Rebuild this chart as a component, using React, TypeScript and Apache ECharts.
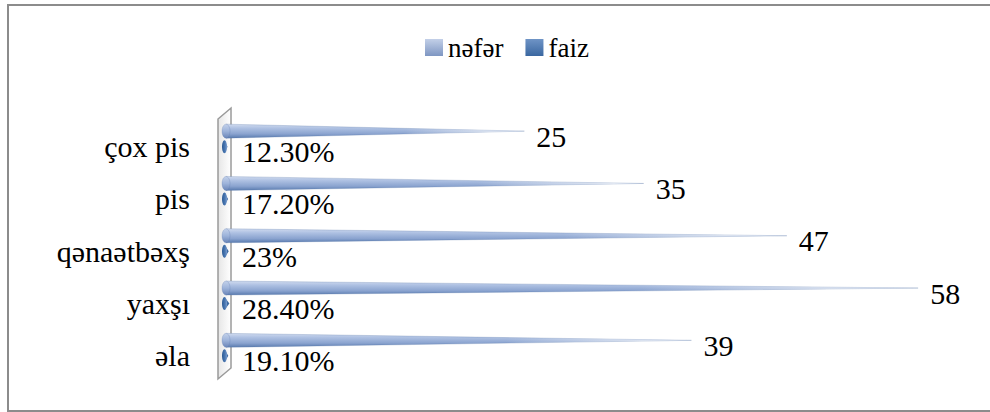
import React, { useEffect, useRef } from "react";
import * as echarts from "echarts";

const categories = ["əla", "yaxşı", "qənaətbəxş", "pis", "çox pis"];
const neferValues = [39, 58, 47, 35, 25];
const faizValues = [0.191, 0.284, 0.23, 0.172, 0.123];
const faizLabels = ["19.10%", "28.40%", "23%", "17.20%", "12.30%"];
const seriesNames = ["nəfər", "faiz"];

const FONT = "Times New Roman, Liberation Serif, serif";

export default function App() {
  const ref = useRef<HTMLDivElement>(null);
  useEffect(() => {
    const chart = echarts.init(ref.current!, null, { renderer: "svg" });

    const coneFill = {
      type: "linear", x: 0, y: 0, x2: 0, y2: 1,
      colorStops: [
        { offset: 0, color: "#d0dbef" },
        { offset: 0.3, color: "#adc0e2" },
        { offset: 0.7, color: "#8aa3cf" },
        { offset: 1, color: "#587aae" },
      ],
    };
    const fadeFill = {
      type: "linear", x: 0, y: 0, x2: 1, y2: 0,
      colorStops: [
        { offset: 0, color: "rgba(255,255,255,0)" },
        { offset: 0.6, color: "rgba(255,255,255,0)" },
        { offset: 1, color: "rgba(255,255,255,0.9)" },
      ],
    };
    const baseFill = {
      type: "linear", x: 0, y: 0, x2: 0, y2: 1,
      colorStops: [
        { offset: 0, color: "#c3d1ea" },
        { offset: 0.5, color: "#9db3da" },
        { offset: 1, color: "#6985b8" },
      ],
    };
    const faizFill = {
      type: "linear", x: 0, y: 0, x2: 1, y2: 0,
      colorStops: [
        { offset: 0, color: "#2d5b95" },
        { offset: 0.6, color: "#4a78b3" },
        { offset: 1, color: "#7fa0cf" },
      ],
    };

    const option: any = {
      animation: false,
      backgroundColor: "#ffffff",
      textStyle: { fontFamily: FONT },
      legend: {
        data: seriesNames,
        left: 420,
        top: 29,
        icon: "rect",
        itemWidth: 18,
        itemHeight: 17,
        itemGap: 22,
        textStyle: { fontFamily: FONT, fontSize: 27, color: "#000" },
      },
      grid: { left: 226, right: 48, top: 113, height: 261.5, containLabel: false },
      xAxis: {
        type: "value",
        min: 0,
        max: 60,
        show: false,
      },
      yAxis: {
        type: "category",
        data: categories,
        axisLine: { show: false },
        axisTick: { show: false },
        splitLine: { show: false },
        axisLabel: {
          fontFamily: FONT,
          fontSize: 30,
          color: "#000",
          margin: 36,
          verticalAlign: "top",
          lineHeight: 15,
        },
      },
      graphic: [
        {
          type: "rect",
          z: 0,
          shape: { x: 8, y: 5, width: 990, height: 406 },
          style: { fill: "none", stroke: "#8c8c8c", lineWidth: 2 },
        },
        {
          type: "polygon",
          z: 0,
          shape: { points: [[218, 119], [231, 108], [231, 368], [218, 379]] },
          style: {
            fill: {
              type: "linear", x: 0, y: 0, x2: 1, y2: 0,
              colorStops: [
                { offset: 0, color: "#e6e6e6" },
                { offset: 1, color: "#ffffff" },
              ],
            },
            stroke: "#9a9a9a",
            lineWidth: 1.5,
          },
        },
      ],
      series: [
        {
          name: seriesNames[0],
          type: "custom",
          z: 3,
          itemStyle: {
            color: {
              type: "linear", x: 0, y: 0, x2: 0, y2: 1,
              colorStops: [
                { offset: 0, color: "#c3d0e8" },
                { offset: 1, color: "#7e96c2" },
              ],
            },
          },
          encode: { x: 0, y: 1 },
          data: neferValues.map((v, i) => [v, i]),
          renderItem: (params: any, api: any) => {
            const i = api.value(1);
            const v = api.value(0);
            const p0 = api.coord([0, i]);
            const p1 = api.coord([v, i]);
            const x0 = p0[0];
            const x1 = p1[0];
            const yc = p0[1] - 8;
            const h = 7;
            const pts = [[x0, yc - h], [x1, yc], [x0, yc + h]];
            return {
              type: "group",
              children: [
                {
                  type: "polygon",
                  shape: { points: pts },
                  style: { fill: coneFill, stroke: "rgba(90,120,170,0.45)", lineWidth: 0.6 },
                },
                {
                  type: "polygon",
                  shape: { points: pts },
                  style: { fill: fadeFill },
                },
                {
                  type: "ellipse",
                  shape: { cx: x0, cy: yc, rx: 4, ry: h },
                  style: { fill: baseFill, stroke: "rgba(90,120,170,0.5)", lineWidth: 0.5 },
                },
                {
                  type: "text",
                  style: {
                    text: String(v),
                    x: x1 + 12,
                    y: yc + 5,
                    fill: "#000",
                    fontFamily: FONT,
                    fontSize: 30,
                    align: "left",
                    verticalAlign: "middle",
                  },
                },
              ],
            };
          },
        },
        {
          name: seriesNames[1],
          type: "custom",
          z: 3,
          itemStyle: {
            color: {
              type: "linear", x: 0, y: 0, x2: 0, y2: 1,
              colorStops: [
                { offset: 0, color: "#6f94c6" },
                { offset: 1, color: "#3a67a0" },
              ],
            },
          },
          encode: { x: 0, y: 1 },
          data: faizValues.map((v, i) => [v, i]),
          renderItem: (params: any, api: any) => {
            const i = api.value(1);
            const v = api.value(0);
            const p0 = api.coord([0, i]);
            const p1 = api.coord([v, i]);
            const x0 = p0[0];
            const x1 = p1[0];
            const yc = p0[1] + 7.5;
            const h = 6.5;
            return {
              type: "group",
              children: [
                {
                  type: "polygon",
                  shape: { points: [[x0 - 1.5, yc - h], [x1, yc], [x0 - 1.5, yc + h]] },
                  style: { fill: "#3d6aa3" },
                },
                {
                  type: "ellipse",
                  shape: { cx: x0 - 1.5, cy: yc, rx: 2.5, ry: h },
                  style: { fill: faizFill },
                },
                {
                  type: "text",
                  style: {
                    text: faizLabels[i],
                    x: x0 + 16,
                    y: yc + 5,
                    fill: "#000",
                    fontFamily: FONT,
                    fontSize: 30,
                    align: "left",
                    verticalAlign: "middle",
                  },
                },
              ],
            };
          },
        },
      ],
    };

    chart.setOption(option);
    return () => chart.dispose();
  }, []);

  return (
    <div
      ref={ref}
      style={{ position: "fixed", left: 0, top: 0, width: 990, height: 412, background: "#fff" }}
    />
  );
}
